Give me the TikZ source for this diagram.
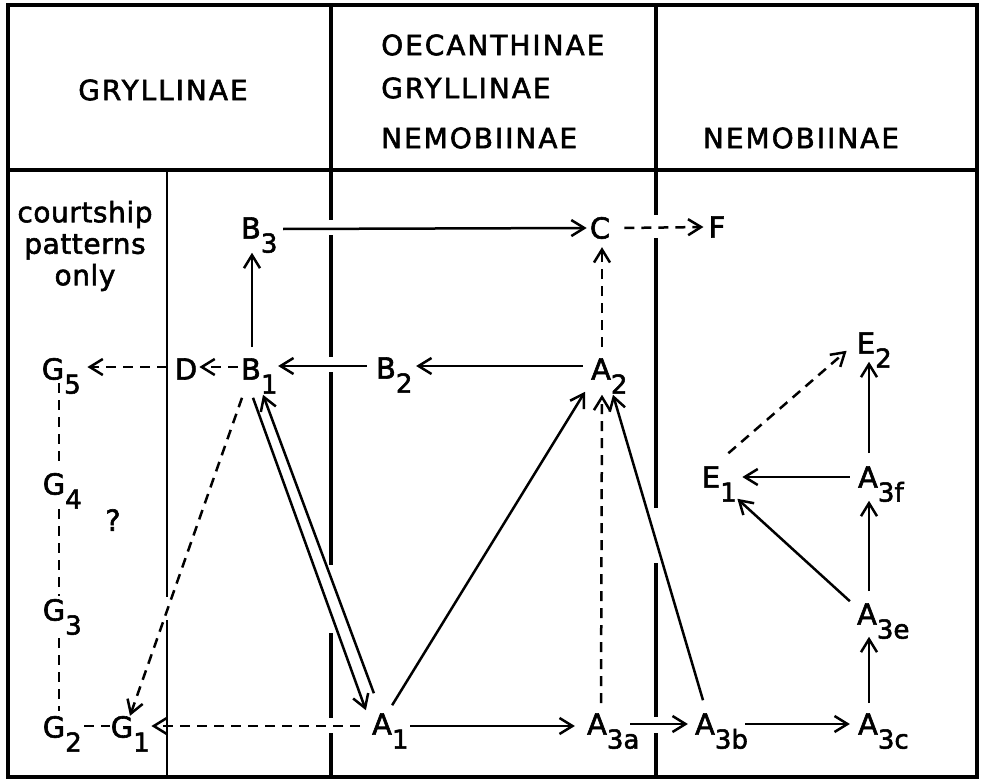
\documentclass[tikz,border=0pt]{standalone}
\usepackage{fontspec}
\setmainfont{DejaVu Sans}[FakeBold=2]
\usetikzlibrary{arrows.meta,calc}
\newcommand\sbs[1]{\rlap{\smash{\raisebox{-14pt}{\fontsize{26}{26}\selectfont #1}}}}
\begin{document}
\begin{tikzpicture}[x=1pt,y=-1pt,
  lbl/.style={inner sep=0pt, font=\fontsize{29}{31}\selectfont},
  hdr/.style={inner sep=0pt, font=\fontsize{28}{30}\selectfont\addfontfeature{LetterSpace=7}},
  frameline/.style={line width=4.5pt},
  divider/.style={line width=4.4pt},
  thinline/.style={line width=2.4pt},
  conn/.style={line width=2.5pt},
  arr/.style={conn,-{Straight Barb[length=13pt,width=16pt]}},
  dsh/.style={dash pattern=on 10pt off 7pt}]
\useasboundingbox (0,0) rectangle (983,781);
% frame
\draw[frameline] (8,5) rectangle (977,777);
\draw[frameline] (8,170) -- (977,170);
\draw[divider] (331,5) -- (331,220) (331,235) -- (331,357) (331,372) -- (331,565) (331,633) -- (331,718) (331,733) -- (331,777);
\draw[divider] (656,5) -- (656,215) (656,238) -- (656,508) (656,563) -- (656,717) (656,733) -- (656,777);
\draw[thinline] (167,170) -- (167,597) (167,620) -- (167,777);
% headers
\node[hdr] (h1) at (163,90) {GRYLLINAE};
\node[hdr, anchor=west] (h2) at (381,45) {OECANTHINAE};
\node[hdr, anchor=west] (h3) at (381,88) {GRYLLINAE};
\node[hdr, anchor=west] (h4) at (381,138) {NEMOBIINAE};
\node[hdr] (h5) at (801,138) {NEMOBIINAE};
\node[lbl, align=center, font=\fontsize{28}{31.5}\selectfont\addfontfeature{LetterSpace=2}] (cp) at (85,246) {courtship\\patterns\\only};
% nodes
\node[lbl] (B3) at (251,228) {B\sbs{3}};
\node[lbl] (C) at (600,228) {C};
\node[lbl] (F) at (717,227) {F};
\node[lbl] (G5) at (53,369) {G\sbs{5}};
\node[lbl] (D) at (186,369) {D};
\node[lbl] (B1) at (251,369) {B\sbs{1}};
\node[lbl] (B2) at (386,368) {B\sbs{2}};
\node[lbl] (A2) at (601,369) {A\sbs{2}};
\node[lbl] (E2) at (866,343) {E\sbs{2}};
\node[lbl] (E1) at (711,477) {E\sbs{1}};
\node[lbl] (A3f) at (868,477) {A\sbs{3f}};
\node[lbl] (G4) at (54,484) {G\sbs{4}};
\node[lbl] (Q) at (113,520) {?};
\node[lbl] (G3) at (54,610) {G\sbs{3}};
\node[lbl] (A3e) at (867,614) {A\sbs{3e}};
\node[lbl] (G2) at (54,727) {G\sbs{2}};
\node[lbl] (G1) at (122,727) {G\sbs{1}};
\node[lbl] (A1) at (382,724) {A\sbs{1}};
\node[lbl] (A3a) at (597,724) {A\sbs{3a}};
\node[lbl] (A3b) at (705,724) {A\sbs{3b}};
\node[lbl] (A3c) at (868,724) {A\sbs{3c}};
% connectors
\draw[arr] ($(B3.east)+(22,1)$) -- ($(C.west)+(-3,0)$);
\draw[arr,dsh] ($(C.east)+(14,0)$) -- ($(F.west)+(-5,0)$);
\draw[arr] ($(B1.north)+(1,-11)$) -- ($(B3.south)+(1,14)$);
\draw[arr,dsh] ($(A2.north)+(1,-11)$) -- ($(C.south)+(2,8)$);
\draw[arr,dsh] ($(B1.west)+(-3,-2)$) -- ($(D.east)+(2,-2)$);
\draw[arr,dsh] ($(D.west)+(-8,-2)$) -- ($(G5.east)+(23,-2)$);
\draw[arr] ($(B2.west)+(-9,-2)$) -- ($(B1.east)+(17,-3)$);
\draw[arr] ($(A2.west)+(-8,-3)$) -- ($(B2.east)+(20,-2)$);
\draw[conn,dsh] ($(G5.south)+(6,3)$) -- ($(G4.north)+(5,-5)$);
\draw[conn,dsh] ($(G4.south)+(5,14)$) -- ($(G3.north)+(5,-3)$);
\draw[conn,dsh] ($(G3.south)+(5,17)$) -- ($(G2.north)+(5,-5)$);
\draw[conn,dsh] ($(G2.east)+(19,-1)$) -- ($(G1.west)+(-1,-1)$);
\draw[arr,dsh] ($(A1.west)+(-12,2)$) -- ($(G1.east)+(18,-1)$);
\draw[arr,dsh] ($(B1.south)+(-9,18)$) -- ($(G1.north)+(8,0)$);
\draw[arr] ($(B1.south)+(2,18)$) -- ($(A1.north west)+(-6,-3)$);
\draw[arr] ($(A1.north west)+(2,-20)$) -- ($(B1.south)+(12,15)$);
\draw[arr] ($(A1.north east)+(0,-8)$) -- ($(A2.south)+(-16,12)$);
\draw[arr] ($(A1.east)+(18,2)$) -- ($(A3a.west)+(-12,2)$);
\draw[arr,dsh] ($(A3a.north)+(4,-10)$) -- ($(A2.south)+(1,15)$);
\draw[arr] ($(A3a.east)+(23,0)$) -- ($(A3b.west)+(-7,0)$);
\draw[arr] ($(A3b.north)+(-2,-13)$) -- ($(A2.south)+(12,15)$);
\draw[arr] ($(A3b.east)+(30,0)$) -- ($(A3c.west)+(-8,0)$);
\draw[arr] ($(A3c.north)+(1,-10)$) -- ($(A3e.south)+(2,12)$);
\draw[arr] ($(A3e.north)+(2,-12)$) -- ($(A3f.south)+(1,13)$);
\draw[arr] ($(A3f.north)+(1,-13)$) -- ($(E2.south)+(3,8)$);
\draw[arr] ($(A3f.west)+(-8,0)$) -- ($(E1.east)+(22,0)$);
\draw[arr] ($(A3e.north west)+(-7,-2)$) -- ($(E1.south east)+(17,11)$);
\draw[arr,dsh] ($(E1.north east)+(8,-13)$) -- ($(E2.south west)+(-10,-3)$);
\end{tikzpicture}
\end{document}
